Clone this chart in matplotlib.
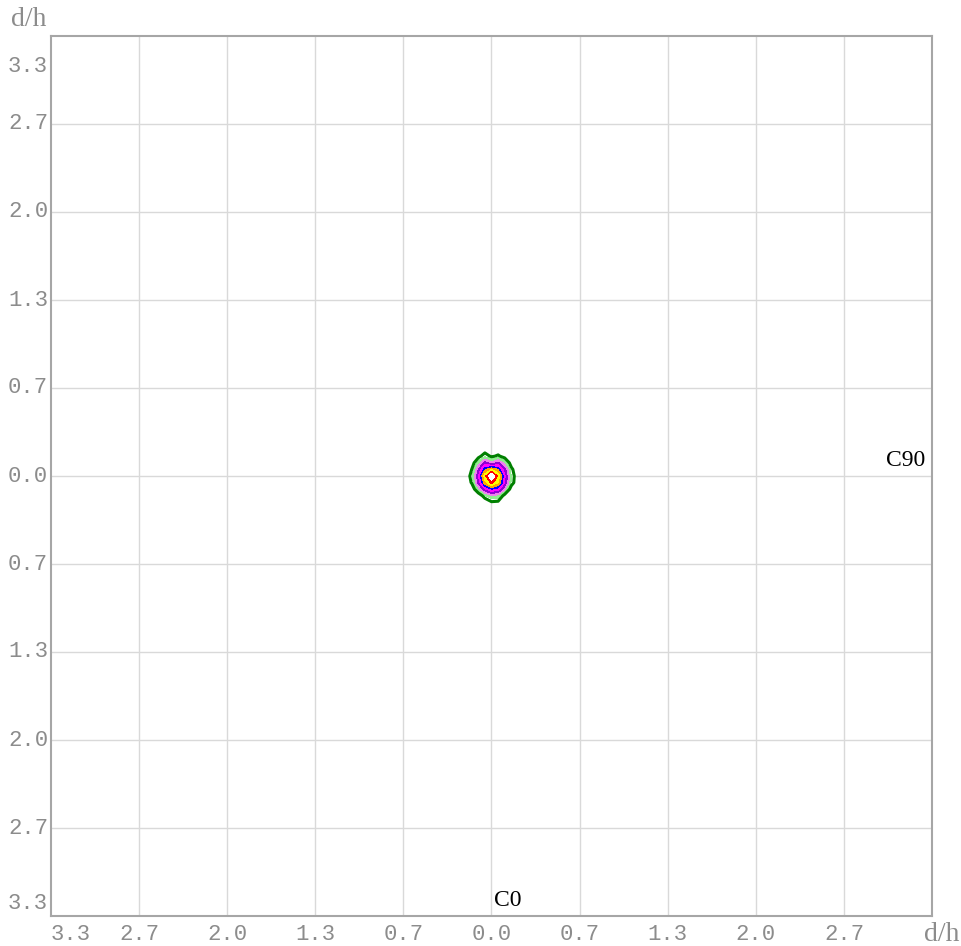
import matplotlib
matplotlib.use("Agg")
import matplotlib.pyplot as plt
import numpy as np

# axis ticks (d/h), shown as absolute values
tick_vals = [-3.333, -2.667, -2.0, -1.333, -0.667, 0.0, 0.667, 1.333, 2.0, 2.667, 3.333]
tick_text = ["3.3", "2.7", "2.0", "1.3", "0.7", "0.0", "0.7", "1.3", "2.0", "2.7", "3.3"]

# intensity field around the centre
grid_x = [-0.2, -0.15, -0.1, -0.05, 0.0, 0.05, 0.1, 0.15, 0.2]
grid_y = [0.2, 0.15, 0.1, 0.05, 0.0, -0.05, -0.1, -0.15, -0.2, -0.25]
intensity = [
    [0.0, 0.0, 0.0, 0.4, 0.0, 0.2, 0.0, 0.0, 0.0],
    [0.0, 0.0, 0.6, 1.6, 0.8, 1.2, 0.5, 0.0, 0.0],
    [0.0, 0.3, 2.2, 4.3, 3.2, 4.0, 2.4, 0.4, 0.0],
    [0.0, 1.0, 3.8, 6.4, 7.6, 6.6, 4.2, 1.3, 0.0],
    [0.0, 1.4, 4.6, 8.2, 10.8, 8.4, 5.0, 1.8, 0.0],
    [0.0, 1.1, 4.1, 7.2, 9.0, 7.6, 4.8, 1.6, 0.0],
    [0.0, 0.0, 2.3, 4.6, 5.8, 5.3, 3.0, 0.3, 0.0],
    [0.0, 0.0, 0.0, 1.6, 2.6, 2.4, 0.4, 0.0, 0.0],
    [0.0, 0.0, 0.0, 0.0, 0.8, 0.7, 0.0, 0.0, 0.0],
    [0.0, 0.0, 0.0, 0.0, 0.0, 0.0, 0.0, 0.0, 0.0],
]
levels = [1.0, 1.8, 2.8, 3.8, 4.8, 5.8, 6.6, 7.6, 8.6, 9.6, 99.0]
band_colors = ["white", "#90ee90", "#ee82ee", "#9400d3", "#ff00ff", "#0000ff",
               "#ffa500", "#ffff00", "#ff0000", "white"]

num_font = "Liberation Mono"
txt_font = "Liberation Serif"
gray = "#8c8c8c"
px = 0.72  # points per pixel at dpi 100

fig = plt.figure(figsize=(9.62, 9.46), dpi=100)
ax = fig.add_axes([51 / 962, 30 / 946, 881 / 962, 880 / 946])
ax.set_xlim(-3.333, 3.333)
ax.set_ylim(-3.333, 3.333)

for v in tick_vals[1:-1]:
    ax.axvline(v, color="#d9d9d9", lw=1.0, zorder=0)
    ax.axhline(v, color="#d9d9d9", lw=1.0, zorder=0)

X, Y = np.meshgrid(grid_x, grid_y)
Z = np.array(intensity)
ax.contourf(X, Y, Z, levels=levels, colors=band_colors, zorder=2)
ax.contour(X, Y, Z, levels=[1.0], colors="#008000", linewidths=2.2, zorder=3)

ax.set_xticks([])
ax.set_yticks([])
for s in ax.spines.values():
    s.set_color("#a6a6a6")
    s.set_linewidth(1.5)

# x tick labels (last one replaced by the axis label)
for i, (v, t) in enumerate(zip(tick_vals[:-1], tick_text[:-1])):
    dx = 20 if i == 0 else 0
    ax.annotate(t, xy=(v, 0), xycoords=("data", "axes fraction"),
                xytext=(dx * px, -18 * px), textcoords="offset points",
                ha="center", va="center", fontsize=16, family=num_font, color=gray)

# y tick labels
for i, (v, t) in enumerate(zip(tick_vals, tick_text)):
    dy = 13 if i == 0 else (-30 if i == len(tick_vals) - 1 else 0)
    ax.annotate(t, xy=(0, v), xycoords=("axes fraction", "data"),
                xytext=(-3 * px, dy * px), textcoords="offset points",
                ha="right", va="center", fontsize=16, family=num_font, color=gray)

ax.annotate("d/h", xy=(0, 1), xycoords="axes fraction", xytext=(-22 * px, 16 * px),
            textcoords="offset points", ha="center", va="center",
            fontsize=20, family=txt_font, color=gray)
ax.annotate("d/h", xy=(1, 0), xycoords="axes fraction", xytext=(10 * px, -18 * px),
            textcoords="offset points", ha="center", va="center",
            fontsize=20, family=txt_font, color=gray)

ax.annotate("C90", xy=(1, 0), xycoords=("axes fraction", "data"), xytext=(-7 * px, 16 * px),
            textcoords="offset points", ha="right", va="center",
            fontsize=17, family=txt_font, color="black")
ax.annotate("C0", xy=(0, 0), xycoords=("data", "axes fraction"), xytext=(3 * px, 16 * px),
            textcoords="offset points", ha="left", va="center",
            fontsize=17, family=txt_font, color="black")

fig.savefig("out.png", dpi=100)
